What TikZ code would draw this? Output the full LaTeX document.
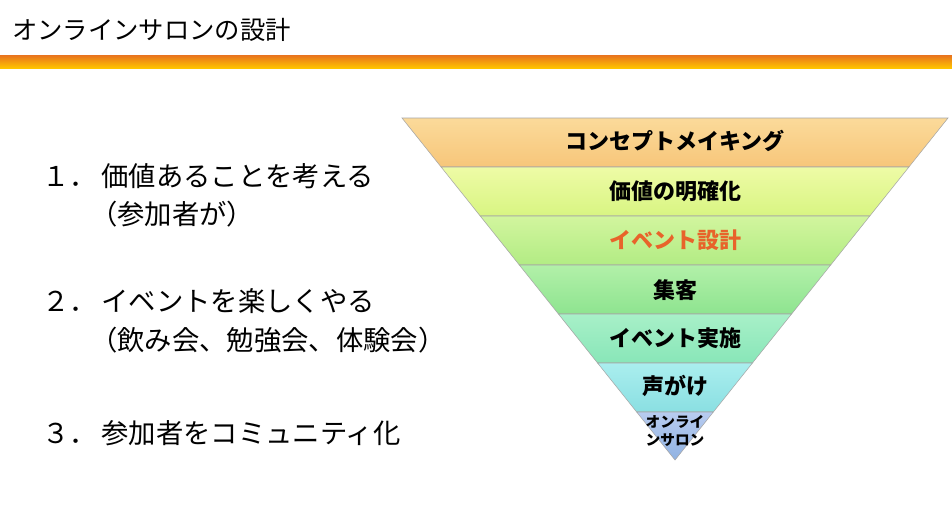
\documentclass[tikz,border=0pt]{standalone}
\usepackage{fontspec}
\setmainfont{Noto Sans CJK JP}
\usetikzlibrary{calc}
\definecolor{c1a}{HTML}{FBDA9A}\definecolor{c1b}{HTML}{F7C67A}
\definecolor{c2a}{HTML}{EEFBA6}\definecolor{c2b}{HTML}{D8F582}
\definecolor{c3a}{HTML}{D2F59E}\definecolor{c3b}{HTML}{B2EC84}
\definecolor{c4a}{HTML}{B2F0A8}\definecolor{c4b}{HTML}{8EE490}
\definecolor{c5a}{HTML}{A8F0C8}\definecolor{c5b}{HTML}{88E6B8}
\definecolor{c6a}{HTML}{AAEEEE}\definecolor{c6b}{HTML}{8ADFE2}
\definecolor{c7a}{HTML}{B8CCF0}\definecolor{c7b}{HTML}{90B2E2}
\definecolor{accent}{HTML}{E8632A}
\definecolor{bartop}{HTML}{E8731E}\definecolor{barbot}{HTML}{FFC400}
\tikzset{lbl/.style={font=\bfseries\fontsize{16.5}{18}\selectfont,inner sep=0pt},
 item/.style={anchor=west,font=\fontsize{20.5}{23}\selectfont,inner sep=0pt}}
\begin{document}
\begin{tikzpicture}[x=0.75pt,y=-0.75pt]
\useasboundingbox (0,0) rectangle (952,529);
\fill[white] (0,0) rectangle (952,529);
\node[anchor=west,inner sep=0pt,font=\fontsize{19}{22}\selectfont] (title) at (12,30) {オンラインサロンの設計};
\shade[top color=bartop,bottom color=barbot] (0,55) rectangle (952,68);
\def\L#1{402+0.7982*(#1-118)}
\def\R#1{948-0.7982*(#1-118)}
\foreach \ya/\yb/\i in {118/167/1,167/216/2,216/265/3,265/314/4,314/363/5,363/412/6} {
  \shade[top color=c\i a,bottom color=c\i b,draw=gray!70,line width=0.4pt]
   ({\L{\ya}},\ya) -- ({\R{\ya}},\ya) -- ({\R{\yb}},\yb) -- ({\L{\yb}},\yb) -- cycle;
}
\shade[top color=c7a,bottom color=c7b,draw=gray!70,line width=0.4pt]
  ({\L{412}},412) -- ({\R{412}},412) -- (675,460) -- cycle;
\node[lbl] (b1) at (675,141) {コンセプトメイキング};
\node[lbl] (b2) at (675,191) {価値の明確化};
\node[lbl,text=accent] (b3) at (675,240) {イベント設計};
\node[lbl] (b4) at (675,290) {集客};
\node[lbl] (b5) at (675,338) {イベント実施};
\node[lbl] (b6) at (675,386) {声がけ};
\node[font=\bfseries\fontsize{11}{13}\selectfont,align=center,inner sep=0pt] (b7) at (675,431) {オンライ\\ンサロン};
\node[item] (i1) at (42,176) {１．\,価値あることを考える};
\node[item] (i1b) at (90,214) {（参加者が）};
\node[item] (i2) at (42,301) {２．\,イベントを楽しくやる};
\node[item] (i2b) at (90,340) {（飲み会、勉強会、体験会）};
\node[item] (i3) at (42,433) {３．\,参加者をコミュニティ化};
\end{tikzpicture}
\end{document}
